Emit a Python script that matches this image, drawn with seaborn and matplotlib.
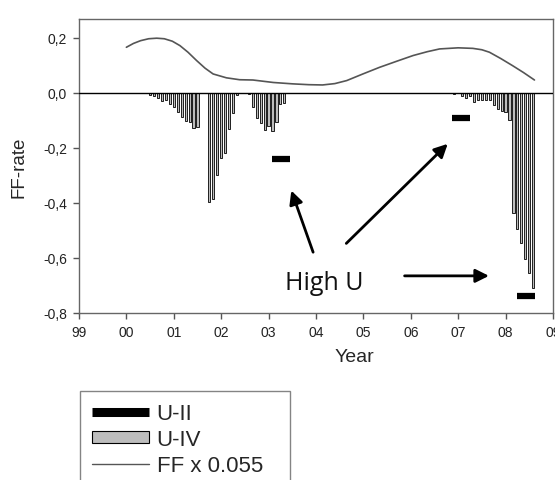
import numpy as np
import pandas as pd
import matplotlib
matplotlib.use("Agg")
import matplotlib.pyplot as plt
import seaborn as sns
from matplotlib.lines import Line2D
from matplotlib.patches import Patch

# U-IV monthly FF-rate bars, grouped by first month (months counted from Jan 1999)
u4_groups = {
    18: [-0.007, -0.012, -0.018, -0.029, -0.024, -0.041, -0.051, -0.069,
         -0.087, -0.103, -0.105, -0.126, -0.124],
    33: [-0.395, -0.387, -0.297, -0.237, -0.219, -0.13, -0.072, -0.008],
    43: [-0.005, -0.051, -0.090, -0.109, -0.134, -0.120, -0.137, -0.106,
         -0.041, -0.035],
    95: [-0.003],
    97: [-0.011, -0.017, -0.012, -0.034, -0.024, -0.024, -0.024, -0.027,
         -0.045, -0.057, -0.065, -0.069, -0.099, -0.436, -0.493, -0.545,
         -0.602, -0.655, -0.709],
}

# U-II estimates
u2_year = [2003.27, 2007.06, 2008.44]
u2_rate = [-0.241, -0.091, -0.738]

# FF x 0.055 curve
ff_year = [2000.0, 2000.15, 2000.3, 2000.47, 2000.64, 2000.8, 2000.97, 2001.13,
           2001.3, 2001.48, 2001.66, 2001.83, 2002.11, 2002.39, 2002.67, 2003.1,
           2003.51, 2003.85, 2004.14, 2004.4, 2004.65, 2004.99, 2005.34, 2005.7,
           2006.05, 2006.35, 2006.61, 2007.0, 2007.31, 2007.5, 2007.66, 2007.9,
           2008.15, 2008.38, 2008.61]
ff_rate = [0.166, 0.18, 0.19, 0.197, 0.199, 0.197, 0.188, 0.172,
           0.148, 0.118, 0.09, 0.069, 0.055, 0.048, 0.047, 0.038,
           0.033, 0.030, 0.029, 0.034, 0.045, 0.069, 0.093, 0.115,
           0.136, 0.150, 0.160, 0.164, 0.162, 0.157, 0.148, 0.125,
           0.099, 0.074, 0.047]

year_ticks = list(range(1999, 2010))
rate_ticks = [-0.8, -0.6, -0.4, -0.2, 0.0, 0.2]

rows = []
for start, vals in u4_groups.items():
    for i, v in enumerate(vals):
        rows.append({"year": 1999 + (start + i) / 12, "rate": v})
u4 = pd.DataFrame(rows)
ff = pd.DataFrame({"year": ff_year, "rate": ff_rate})
u2 = pd.DataFrame({"year": u2_year, "rate": u2_rate})

sns.set_theme(style="ticks")
plt.rcParams["font.family"] = ["Liberation Sans", "DejaVu Sans"]

fig = plt.figure(figsize=(5.55, 4.81), dpi=100)
ax = fig.add_axes([0.1423, 0.3472, 0.854, 0.6102])

ax.bar(u4["year"], u4["rate"], width=0.045, color="#bdbdbd",
       edgecolor="black", linewidth=0.6, zorder=2)
ax.axhline(0, color="black", lw=1.0, zorder=3)
sns.lineplot(data=ff, x="year", y="rate", color="#555555", lw=1.2, ax=ax,
             zorder=4)
ax.plot(u2["year"], u2["rate"], linestyle="none", marker="_", markersize=13,
        markeredgewidth=4.5, color="black", zorder=5)

arrow = dict(arrowstyle="-|>", lw=2, color="black", mutation_scale=20,
             shrinkA=0, shrinkB=0)
ax.annotate("", xy=(2003.48, -0.355), xytext=(2003.94, -0.579), arrowprops=arrow)
ax.annotate("", xy=(2006.78, -0.185), xytext=(2004.64, -0.547), arrowprops=arrow)
ax.annotate("", xy=(2007.65, -0.665), xytext=(2005.87, -0.665), arrowprops=arrow)
ax.text(2004.18, -0.69, "High U", fontsize=18, family="Open Sans",
        color="#111111", ha="center", va="center")

ax.set_xlim(1999, 2009)
ax.set_ylim(-0.8, 0.267)
ax.set_xticks(year_ticks)
ax.set_xticklabels([f"{y % 100:02d}" for y in year_ticks])
ax.set_yticks(rate_ticks)
ax.set_yticklabels([f"{t:.1f}".replace(".", ",") for t in rate_ticks])
ax.tick_params(labelsize=10, length=4.5, width=1, color="#555555", pad=4,
               labelcolor="#222222")
for s in ax.spines.values():
    s.set_color("#666666")
    s.set_linewidth(1)
ax.set_xlabel("Year", fontsize=14)
ax.set_ylabel("FF-rate", fontsize=13.5, labelpad=11)
ax.xaxis.set_label_coords(0.582, -0.119)

handles = [
    Line2D([], [], color="black", lw=6.5, solid_capstyle="butt"),
    Patch(facecolor="#bdbdbd", edgecolor="black", linewidth=0.8),
    Line2D([], [], color="#555555", lw=1),
]
fig.legend(handles, ["U-II", "U-IV", "FF x 0.055"], loc="upper left",
           bbox_to_anchor=(0.144, 0.0, 0.378, 0.186), mode="expand",
           fontsize=16, frameon=True, fancybox=False, edgecolor="#666666",
           handlelength=2.55, handleheight=0.45, labelspacing=0.22,
           borderpad=0.55, handletextpad=0.35, borderaxespad=0)

fig.savefig("out.png", dpi=100)
